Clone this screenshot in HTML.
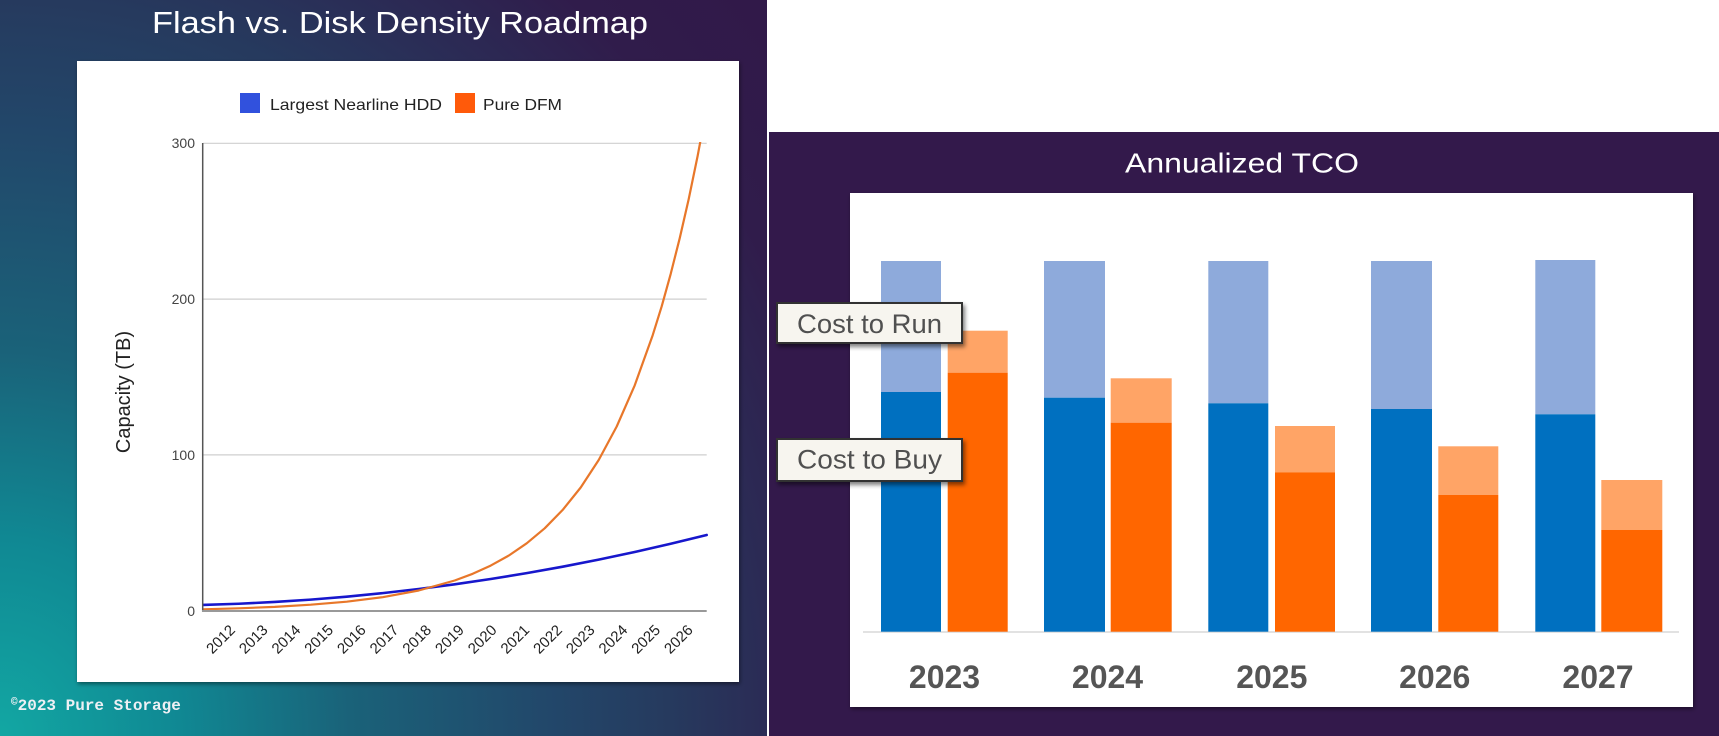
<!DOCTYPE html>
<html>
<head>
<meta charset="utf-8">
<style>
  html, body { margin:0; padding:0; }
  body { width:1719px; height:736px; position:relative; overflow:hidden; background:#ffffff; }
  #left { position:absolute; left:0; top:0; width:767px; height:736px;
    background: radial-gradient(ellipse 1000px 1100px at 0% 100%,
      #12a7a3 0%, #108893 18%, #1a6279 35%, #22476a 55%, #263a5e 67%, #2b2b55 77%, #301c4b 88%, #311949 100%); }
  #right { position:absolute; left:769px; top:132px; width:950px; height:604px; background:#33194b; }
  svg { position:absolute; left:0; top:0; }
</style>
</head>
<body>
<div id="left"></div>
<div id="right"></div>
<svg width="1719" height="736" viewBox="0 0 1719 736" xmlns="http://www.w3.org/2000/svg">
  <defs>
    <filter id="sh" x="-5%" y="-5%" width="110%" height="110%">
      <feDropShadow dx="1" dy="2" stdDeviation="2" flood-color="#000" flood-opacity="0.45"/>
    </filter>
    <filter id="sh2" x="-10%" y="-20%" width="120%" height="150%">
      <feDropShadow dx="2" dy="3" stdDeviation="2" flood-color="#000" flood-opacity="0.5"/>
    </filter>
    <clipPath id="plot"><rect x="202" y="142" width="506" height="472"/></clipPath>
  </defs>

  <!-- ===== LEFT PANEL ===== -->
  <text x="152" y="33" font-family="Liberation Sans, Arial, sans-serif" font-size="31" fill="#ffffff" textLength="496" lengthAdjust="spacingAndGlyphs">Flash vs. Disk Density Roadmap</text>

  <rect x="77" y="61" width="662" height="621" fill="#ffffff" filter="url(#sh)"/>

  <!-- legend -->
  <rect x="240" y="93" width="20" height="20" fill="#3151dd"/>
  <text x="270" y="110" font-family="Liberation Sans, Arial, sans-serif" font-size="16" fill="#222" textLength="172" lengthAdjust="spacingAndGlyphs">Largest Nearline HDD</text>
  <rect x="455" y="93" width="20" height="20" fill="#ff5a0a"/>
  <text x="483" y="110" font-family="Liberation Sans, Arial, sans-serif" font-size="16" fill="#222" textLength="79" lengthAdjust="spacingAndGlyphs">Pure DFM</text>

  <!-- gridlines -->
  <g stroke="#cfcfcf" stroke-width="1.2">
    <line x1="203" y1="143.3" x2="706.7" y2="143.3"/>
    <line x1="203" y1="299.1" x2="706.7" y2="299.1"/>
    <line x1="203" y1="454.9" x2="706.7" y2="454.9"/>
  </g>

  <!-- y ticks -->
  <g font-family="Liberation Sans, Arial, sans-serif" font-size="14" fill="#444" text-anchor="end">
    <text x="195" y="148">300</text>
    <text x="195" y="304">200</text>
    <text x="195" y="460">100</text>
    <text x="195" y="616">0</text>
  </g>

  <text transform="translate(130,392) rotate(-90)" font-family="Liberation Sans, Arial, sans-serif" font-size="20" fill="#222" text-anchor="middle">Capacity (TB)</text>

  <!-- series -->
  <g clip-path="url(#plot)" fill="none" stroke-linejoin="round" stroke-linecap="round">
    <polyline stroke="#1717cc" stroke-width="2.6" points="202.7,604.9 238.7,603.75 274.7,601.97 310.7,599.61 346.7,596.67 382.7,593.13 418.7,589.02 454.7,584.31 490.7,579.02 526.7,573.15 562.7,566.69 598.7,559.64 634.7,552.01 670.7,543.79 706.7,535.0"/>
    <polyline stroke="#e8772a" stroke-width="2.2" points="202.7,609.3 238.7,608.3 274.7,606.9 310.7,604.7 346.7,601.7 382.7,597.2 418.7,590.5 454.7,580.5 472.7,573.8 490.7,565.6 508.7,555.6 526.7,543.3 544.7,528.3 562.7,509.9 580.7,487.5 598.7,460.0 616.7,426.5 634.7,385.4 652.7,335.2 661.7,306.3 670.7,273.9 679.7,238.3 688.7,199.1 697.7,155.6 706.7,107.5"/>
  </g>

  <!-- axes -->
  <line x1="202.7" y1="143" x2="202.7" y2="611.5" stroke="#555" stroke-width="1.5"/>
  <line x1="202" y1="611" x2="706.7" y2="611" stroke="#999" stroke-width="2"/>

  <!-- x labels -->
  <g font-family="Liberation Sans, Arial, sans-serif" font-size="15" fill="#222" text-anchor="end">
    <text transform="translate(236,631) rotate(-45)">2012</text>
    <text transform="translate(268.7,631) rotate(-45)">2013</text>
    <text transform="translate(301.4,631) rotate(-45)">2014</text>
    <text transform="translate(334.1,631) rotate(-45)">2015</text>
    <text transform="translate(366.8,631) rotate(-45)">2016</text>
    <text transform="translate(399.5,631) rotate(-45)">2017</text>
    <text transform="translate(432.2,631) rotate(-45)">2018</text>
    <text transform="translate(464.9,631) rotate(-45)">2019</text>
    <text transform="translate(497.6,631) rotate(-45)">2020</text>
    <text transform="translate(530.3,631) rotate(-45)">2021</text>
    <text transform="translate(563,631) rotate(-45)">2022</text>
    <text transform="translate(595.7,631) rotate(-45)">2023</text>
    <text transform="translate(628.4,631) rotate(-45)">2024</text>
    <text transform="translate(661.1,631) rotate(-45)">2025</text>
    <text transform="translate(693.8,631) rotate(-45)">2026</text>
  </g>

  <text x="11" y="710" font-family="Liberation Mono, DejaVu Sans Mono, monospace" font-weight="bold" font-size="16" fill="#eef0f4"><tspan font-size="11" dy="-5">©</tspan><tspan dy="5">2023 Pure Storage</tspan></text>

  <!-- ===== RIGHT PANEL ===== -->
  <text x="1125" y="172.7" font-family="Liberation Sans, Arial, sans-serif" font-size="27.5" fill="#ffffff" textLength="234" lengthAdjust="spacingAndGlyphs">Annualized TCO</text>

  <rect x="850" y="193" width="843" height="514" fill="#ffffff" filter="url(#sh)"/>

  <line x1="863" y1="632" x2="1679" y2="632" stroke="#d9d9d9" stroke-width="1.5"/>

  <!-- bars -->
  <g>
    <rect x="881" y="261" width="60" height="131" fill="#8eaadb"/>
    <rect x="881" y="392" width="60" height="239.7" fill="#0070c0"/>
    <rect x="947.7" y="330.7" width="60" height="42" fill="#ffa466"/>
    <rect x="947.7" y="372.7" width="60" height="259" fill="#ff6600"/>

    <rect x="1044" y="261" width="61" height="136.7" fill="#8eaadb"/>
    <rect x="1044" y="397.7" width="61" height="234" fill="#0070c0"/>
    <rect x="1110.7" y="378.3" width="61" height="44.4" fill="#ffa466"/>
    <rect x="1110.7" y="422.7" width="61" height="209" fill="#ff6600"/>

    <rect x="1208.3" y="261" width="60" height="142.3" fill="#8eaadb"/>
    <rect x="1208.3" y="403.3" width="60" height="228.4" fill="#0070c0"/>
    <rect x="1275" y="426" width="60" height="46.3" fill="#ffa466"/>
    <rect x="1275" y="472.3" width="60" height="159.4" fill="#ff6600"/>

    <rect x="1371" y="261" width="61" height="148" fill="#8eaadb"/>
    <rect x="1371" y="409" width="61" height="222.7" fill="#0070c0"/>
    <rect x="1438.3" y="446.3" width="60" height="48.7" fill="#ffa466"/>
    <rect x="1438.3" y="495" width="60" height="136.7" fill="#ff6600"/>

    <rect x="1535.3" y="260" width="60" height="154.3" fill="#8eaadb"/>
    <rect x="1535.3" y="414.3" width="60" height="217.4" fill="#0070c0"/>
    <rect x="1601.3" y="480" width="61" height="50" fill="#ffa466"/>
    <rect x="1601.3" y="530" width="61" height="101.7" fill="#ff6600"/>
  </g>

  <!-- year labels -->
  <g font-family="Liberation Sans, Arial, sans-serif" font-size="32" font-weight="bold" fill="#555555" text-anchor="middle">
    <text x="944.5" y="688">2023</text>
    <text x="1107.5" y="688">2024</text>
    <text x="1271.8" y="688">2025</text>
    <text x="1434.7" y="688">2026</text>
    <text x="1598" y="688">2027</text>
  </g>

  <!-- callout labels -->
  <rect x="777" y="303" width="185" height="40" fill="#f7f5ef" stroke="#333" stroke-width="2" filter="url(#sh2)"/>
  <text x="797" y="333" font-family="Liberation Sans, Arial, sans-serif" font-size="27" fill="#505050" textLength="145" lengthAdjust="spacingAndGlyphs">Cost to Run</text>
  <rect x="777" y="439" width="185" height="42" fill="#f7f5ef" stroke="#333" stroke-width="2" filter="url(#sh2)"/>
  <text x="797" y="468.5" font-family="Liberation Sans, Arial, sans-serif" font-size="27" fill="#505050" textLength="145" lengthAdjust="spacingAndGlyphs">Cost to Buy</text>
</svg>
</body>
</html>
